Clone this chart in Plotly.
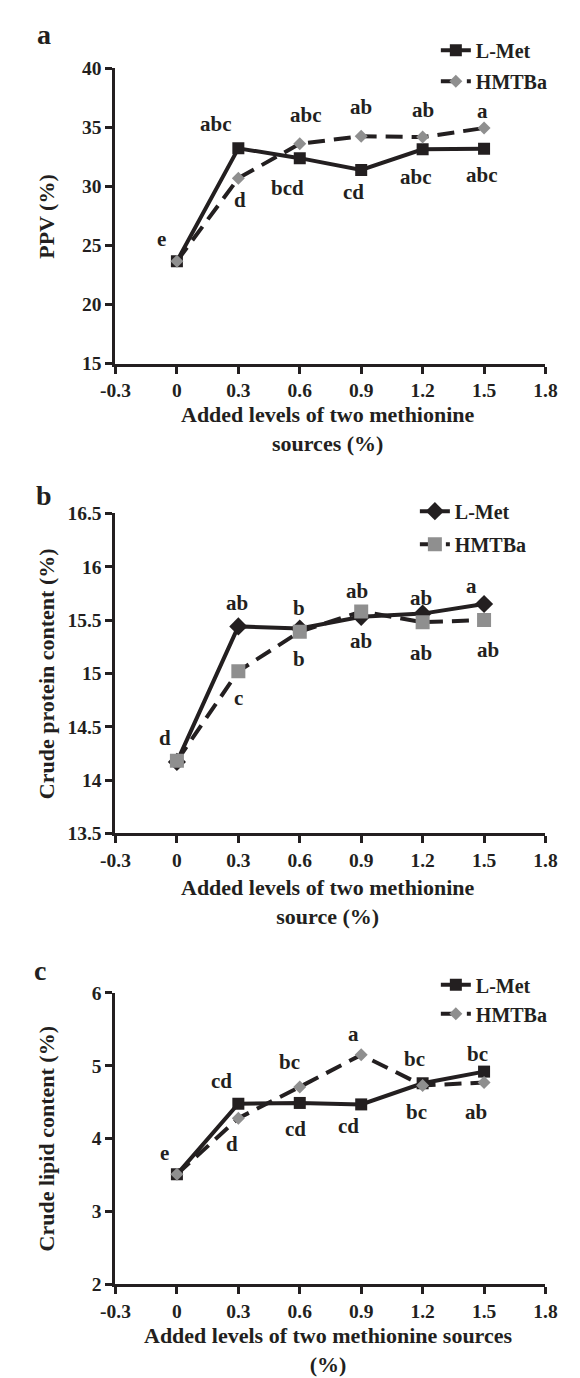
import plotly.graph_objects as go

# ---------------- data ----------------
levels = [0, 0.3, 0.6, 0.9, 1.2, 1.5]
x_tick_vals = [-0.3, 0, 0.3, 0.6, 0.9, 1.2, 1.5, 1.8]
x_tick_text = ["-0.3", "0", "0.3", "0.6", "0.9", "1.2", "1.5", "1.8"]

ppv_lmet = [23.67, 33.22, 32.39, 31.39, 33.14, 33.19]
ppv_hmtba = [23.67, 30.69, 33.61, 34.25, 34.17, 34.94]
ppv_ticks = [15, 20, 25, 30, 35, 40]
ppv_tick_text = ["15", "20", "25", "30", "35", "40"]

cp_lmet = [14.17, 15.44, 15.42, 15.53, 15.56, 15.65]
cp_hmtba = [14.18, 15.02, 15.39, 15.58, 15.48, 15.50]
cp_ticks = [13.5, 14, 14.5, 15, 15.5, 16, 16.5]
cp_tick_text = ["13.5", "14", "14.5", "15", "15.5", "16", "16.5"]

cl_lmet = [3.51, 4.48, 4.49, 4.47, 4.76, 4.92]
cl_hmtba = [3.51, 4.28, 4.71, 5.15, 4.73, 4.77]
cl_ticks = [2, 3, 4, 5, 6]
cl_tick_text = ["2", "3", "4", "5", "6"]

# significance letters (text) and where they are written (data coords)
ppv_letters = ["e", "abc", "d", "bcd", "abc", "ab", "cd", "ab", "abc", "a", "abc"]
ppv_letter_x = [-0.074, 0.19, 0.31, 0.54, 0.63, 0.90, 0.86, 1.20, 1.17, 1.49, 1.49]
ppv_letter_y = [25.56, 35.3, 28.83, 29.86, 36.0, 36.7, 29.5, 36.5, 30.8, 36.4, 31.0]

cp_letters = ["d", "ab", "c", "b", "b", "ab", "ab", "ab", "ab", "a", "ab"]
cp_letter_x = [-0.057, 0.292, 0.30, 0.595, 0.595, 0.88, 0.90, 1.19, 1.19, 1.44, 1.52]
cp_letter_y = [14.39, 15.66, 14.77, 15.61, 15.13, 15.775, 15.30, 15.71, 15.19, 15.82, 15.22]

cl_letters = ["e", "cd", "d", "bc", "cd", "a", "cd", "bc", "bc", "bc", "ab"]
cl_letter_x = [-0.06, 0.216, 0.27, 0.55, 0.58, 0.86, 0.84, 1.16, 1.17, 1.47, 1.46]
cl_letter_y = [3.80, 4.79, 3.92, 5.05, 4.13, 5.43, 4.17, 5.10, 4.37, 5.16, 4.37]

# ---------------- styling ----------------
W, H = 580, 1378
FONT = "Liberation Serif"
BLACK = "#231f20"
GREY = "#8f8f8f"
DASH = "17px,9px"


def py(p):
    return 1 - p / H


x_dom = [97 / W, 548 / W]
panels = [
    dict(top=51, bottom=351, rng=[15, 40], ticks=ppv_ticks, ttext=ppv_tick_text,
         l=ppv_lmet, h=ppv_hmtba, lsym="square", lsz=12, hsym="diamond", hsz=10,
         letters=(ppv_letters, ppv_letter_x, ppv_letter_y),
         ytitle="PPV (%)", xtitle="Added levels of two methionine<br>sources (%)",
         xtitle_y=417, tag="a", tag_pos=(22, 17), leg_x=433, leg_y=13, gap=2),
    dict(top=503, bottom=828, rng=[13.5, 16.5], ticks=cp_ticks, ttext=cp_tick_text,
         l=cp_lmet, h=cp_hmtba, lsym="diamond", lsz=14, hsym="square", hsz=14,
         letters=(cp_letters, cp_letter_x, cp_letter_y),
         ytitle="Crude protein content (%)",
         xtitle="Added levels of two methionine<br>source (%)",
         xtitle_y=898, tag="b", tag_pos=(22, 485), leg_x=411, leg_y=481, gap=4),
    dict(top=990, bottom=1286, rng=[2, 6], ticks=cl_ticks, ttext=cl_tick_text,
         l=cl_lmet, h=cl_hmtba, lsym="square", lsz=12, hsym="diamond", hsz=10,
         letters=(cl_letters, cl_letter_x, cl_letter_y),
         ytitle="Crude lipid content (%)",
         xtitle="Added levels of two methionine sources<br>(%)",
         xtitle_y=1353, tag="c", tag_pos=(18, 967), leg_x=433, leg_y=962, gap=0),
]

fig = go.Figure()
annotations = []
layout = dict(
    width=W, height=H, margin=dict(l=0, r=0, t=0, b=0),
    paper_bgcolor="white", plot_bgcolor="white",
    font=dict(family=FONT, size=19, color=BLACK, weight="bold"),
    showlegend=True,
)

for i, p in enumerate(panels, start=1):
    xa = "x" if i == 1 else f"x{i}"
    ya = "y" if i == 1 else f"y{i}"
    leg = "legend" if i == 1 else f"legend{i}"
    fig.add_trace(go.Scatter(
        x=levels, y=p["l"], mode="lines+markers", name="L-Met",
        xaxis=xa, yaxis=ya, legend=leg, legendgroup=f"l{i}",
        line=dict(color=BLACK, width=4),
        marker=dict(symbol=p["lsym"], size=p["lsz"], color=BLACK, line=dict(width=0)),
    ))
    fig.add_trace(go.Scatter(
        x=levels, y=p["h"], mode="lines+markers", name="HMTBa",
        xaxis=xa, yaxis=ya, legend=leg, legendgroup=f"h{i}",
        line=dict(color=BLACK, width=4, dash=DASH),
        marker=dict(symbol=p["hsym"], size=p["hsz"], color=GREY, line=dict(width=0)),
    ))
    dom_y = [py(p["bottom"]), py(p["top"])]
    axkey_x = "xaxis" if i == 1 else f"xaxis{i}"
    axkey_y = "yaxis" if i == 1 else f"yaxis{i}"
    layout[axkey_x] = dict(
        domain=x_dom, anchor=ya, range=[-0.3, 1.8], tickmode="array",
        tickvals=x_tick_vals, ticktext=x_tick_text, showgrid=False, zeroline=False,
        showline=True, linecolor=BLACK, linewidth=3, ticks="outside", ticklen=7,
        tickwidth=3, tickcolor=BLACK,
        tickfont=dict(family=FONT, size=19.5, color=BLACK, weight="bold"),
    )
    layout[axkey_y] = dict(
        domain=dom_y, anchor=xa, range=p["rng"], tickmode="array",
        tickvals=p["ticks"], ticktext=p["ttext"], showgrid=False, zeroline=False,
        showline=True, linecolor=BLACK, linewidth=3, ticks="outside", ticklen=7,
        tickwidth=3, tickcolor=BLACK,
        tickfont=dict(family=FONT, size=19.5, color=BLACK, weight="bold"),
    )
    layout[leg] = dict(
        x=p["leg_x"] / W, y=py(p["leg_y"]), xanchor="left", yanchor="top",
        bgcolor="rgba(0,0,0,0)", borderwidth=0, tracegroupgap=p["gap"],
        font=dict(family=FONT, size=20, color=BLACK, weight="bold"),
    )
    # significance letters
    texts, lx, ly = p["letters"]
    for t, xx, yy in zip(texts, lx, ly):
        annotations.append(dict(
            x=xx, y=yy, xref=xa, yref=ya, text=t, showarrow=False,
            xanchor="center", yanchor="middle",
            font=dict(family=FONT, size=21, color=BLACK, weight="bold"),
        ))
    # y title
    annotations.append(dict(
        x=25 / W, y=py((p["top"] + p["bottom"]) / 2), xref="paper", yref="paper",
        text=p["ytitle"], textangle=-90, showarrow=False,
        xanchor="center", yanchor="middle",
        font=dict(family=FONT, size=22, color=BLACK, weight="bold"),
    ))
    # x title
    annotations.append(dict(
        x=320 / W, y=py(p["xtitle_y"]), xref="paper", yref="paper",
        text=p["xtitle"], showarrow=False, xanchor="center", yanchor="middle",
        font=dict(family=FONT, size=22, color=BLACK, weight="bold"),
    ))
    # panel tag
    annotations.append(dict(
        x=p["tag_pos"][0] / W, y=py(p["tag_pos"][1]), xref="paper", yref="paper",
        text=p["tag"], showarrow=False, xanchor="center", yanchor="middle",
        font=dict(family=FONT, size=28, color=BLACK, weight="bold"),
    ))

layout["annotations"] = annotations
fig.update_layout(**layout)
fig.write_html("out.html")
